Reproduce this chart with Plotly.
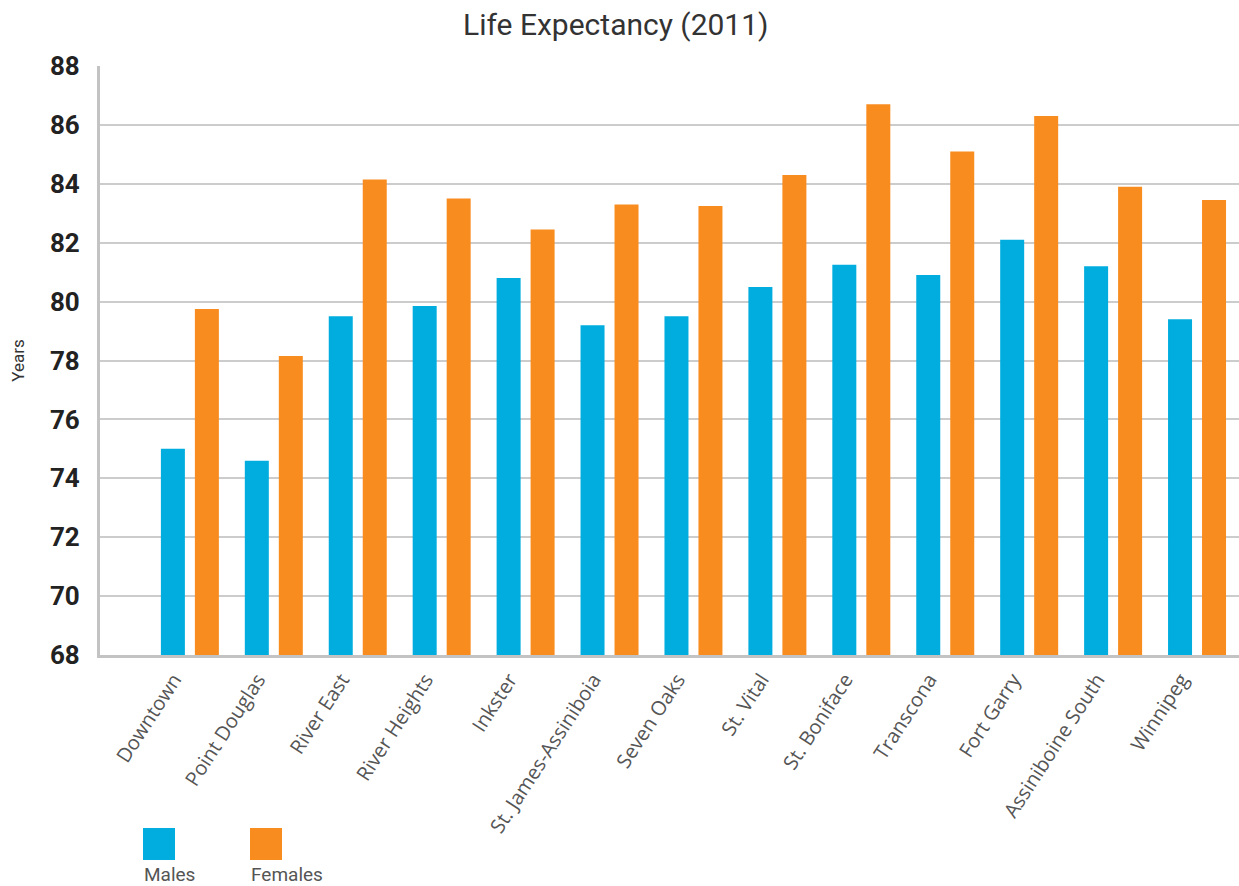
import plotly.graph_objects as go

# ---- data ----
districts = ["Downtown", "Point Douglas", "River East", "River Heights", "Inkster",
             "St. James-Assiniboia", "Seven Oaks", "St. Vital", "St. Boniface",
             "Transcona", "Fort Garry", "Assiniboine South", "Winnipeg"]
males = [75.0, 74.6, 79.5, 79.85, 80.8, 79.2, 79.5, 80.5, 81.25, 80.9, 82.1, 81.2, 79.4]
females = [79.75, 78.15, 84.15, 83.5, 82.45, 83.3, 83.25, 84.3, 86.7, 85.1, 86.3, 83.9, 83.45]
series_names = ["Males", "Females"]
y_ticks = [68, 70, 72, 74, 76, 78, 80, 82, 84, 86, 88]

BLUE = "#00ADDE"
ORANGE = "#F98C1F"

W, H = 1239, 886
ML, MR, MT, MB = 100, 0, 66, 231
PW, PH = W - ML - MR, H - MT - MB


def px2paper(x, y):
    return (x - ML) / PW, (H - MB - y) / PH


fig = go.Figure()
fig.add_trace(go.Bar(x=districts, y=[v - 68 for v in males], base=68, name=series_names[0],
                     marker=dict(color=BLUE, line=dict(width=0)), showlegend=False))
fig.add_trace(go.Bar(x=districts, y=[v - 68 for v in females], base=68, name=series_names[1],
                     marker=dict(color=ORANGE, line=dict(width=0)), showlegend=False))

fig.update_layout(
    width=W, height=H,
    margin=dict(l=ML, r=MR, t=MT, b=MB, pad=0),
    paper_bgcolor="white", plot_bgcolor="white",
    barmode="group", bargap=0.19, bargroupgap=0.294,
    title=dict(text="Life Expectancy (2011)", x=0.497, xanchor="center", y=0.972, yanchor="middle",
               font=dict(family="Roboto", size=30, color="#333333")),
    xaxis=dict(
        type="category", range=[-1.071, 12.5],
        showline=True, linecolor="#c3c3c3", linewidth=3,
        showgrid=False, ticks="",
        tickangle=-57,
        ticklabelshift=-16,
        ticklabelstandoff=2,
        tickfont=dict(family="Open Sans", size=20, color="#555555"),
    ),
    yaxis=dict(
        range=[68, 88], tickvals=y_ticks, ticktext=[str(v) for v in y_ticks],
        showline=True, linecolor="#c3c3c3", linewidth=3,
        showgrid=True, gridcolor="#cccccc", gridwidth=1.5,
        zeroline=False, ticks="",
        ticklabelstandoff=12,
        tickfont=dict(family="Roboto", size=26, color="#222222", weight="bold"),
        title=dict(text="Years", font=dict(family="Roboto", size=17, color="#333333"), standoff=22),
    ),
)

# custom legend: squares with labels beneath
legend_items = [(series_names[0], BLUE, 143), (series_names[1], ORANGE, 250)]
for name, color, lx in legend_items:
    x0, y0 = px2paper(lx, 860)
    x1, y1 = px2paper(lx + 32, 828)
    fig.add_shape(type="rect", xref="paper", yref="paper", x0=x0, y0=y0, x1=x1, y1=y1,
                  fillcolor=color, line=dict(width=0))
    tx, ty = px2paper(lx - 1, 874)
    fig.add_annotation(xref="paper", yref="paper", x=tx, y=ty, xanchor="left", yanchor="middle",
                       text=name, showarrow=False,
                       font=dict(family="Roboto", size=19, color="#555555"))

fig.write_html("out.html",
               config={"displayModeBar": False},
               post_script="document.body.style.margin='0';document.body.style.overflow='hidden';")
